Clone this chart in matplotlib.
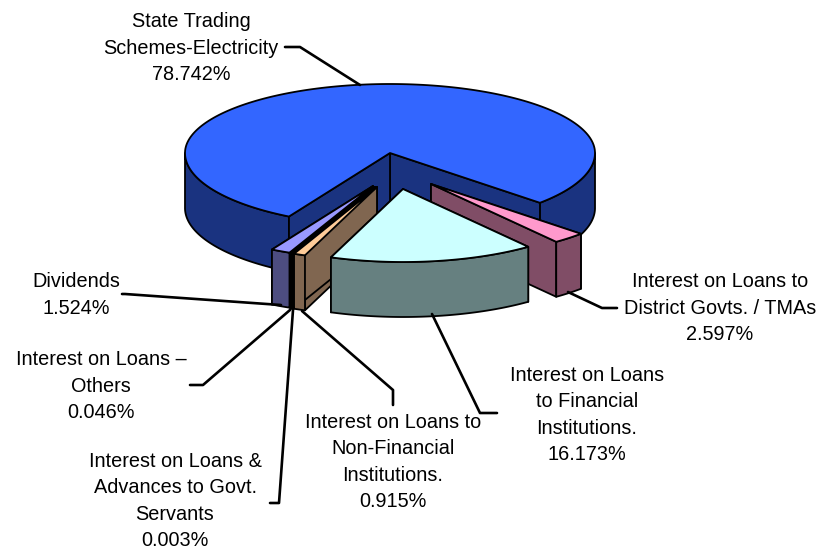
import numpy as np
import matplotlib
matplotlib.use("Agg")
import matplotlib.pyplot as plt
from matplotlib.patches import Polygon

plt.rcParams["font.family"] = ["Liberation Sans", "DejaVu Sans"]

# clockwise from the right hand cut of the big slice
labels = ["Interest on Loans to\nDistrict Govts. / TMAs",
          "Interest on Loans\nto Financial\nInstitutions.",
          "Interest on Loans to\nNon-Financial\nInstitutions.",
          "Interest on Loans &\nAdvances to Govt.\nServants",
          "Interest on Loans \u2013\nOthers",
          "Dividends",
          "State Trading\nSchemes-Electricity"]
values = [2.597, 16.173, 0.915, 0.003, 0.046, 1.524, 78.742]

top_colors = ["#FF99CC", "#CCFFFF", "#FFCC99", "#3A3A5A", "#2A2A3A", "#9999FF", "#3366FF"]
side_colors = ["#804D66", "#668080", "#806650", "#222222", "#222222", "#4D4D80", "#1A3380"]

# apex of each slice in pixels (exploded slices sit off the centre)
apex_x = [431, 403, 377, 375, 374, 373, 390]
apex_y = [184, 189, 187, 187, 187, 186, 153]
text_x = [720, 587, 393, 175, 101, 76, 191]
text_y = [308, 415, 462, 501, 386, 295, 48]

RX = 205
RY_FRONT = 73
RY_BACK = 69
DEPTH = 55
START = -43
LW = 1.3


def rim(t0, t1, cx, cy, n=80):
    t = np.radians(np.linspace(t0, t1, n))
    s = np.sin(t)
    ry = np.where(s < 0, RY_FRONT, RY_BACK)
    return np.column_stack([cx + RX * np.cos(t), cy - ry * s])


def face(ax, pts, color, z):
    ax.add_patch(Polygon(pts, closed=True, fc=color, ec="black", lw=LW, zorder=z, joinstyle="round"))


def down(pts):
    return pts + np.array([0, DEPTH])


def draw_slice(ax, t0, t1, cx, cy, top, side, z):
    # t0 > t1, slices run clockwise
    apex = np.array([[cx, cy]])
    edge = rim(t0, t1, cx, cy)
    for e in (edge[0], edge[-1]):
        p = np.vstack([apex, [e], down(np.array([e])), down(apex)])
        face(ax, p, side, z)
    face(ax, np.vstack([edge, down(edge)[::-1]]), side, z + 0.1)
    face(ax, np.vstack([apex, edge]), top, z + 0.2)


def draw_main(ax, t0, t1, cx, cy, top, side):
    # the large slice is concave: only front rim, then both cut faces, then top
    apex = np.array([[cx, cy]])
    for a, b in ((t0, 0), (180, t1)):
        edge = rim(a, b, cx, cy)
        face(ax, np.vstack([edge, down(edge)[::-1]]), side, 1)
    for t in (t0, t1):
        e = rim(t, t, cx, cy, 1)
        face(ax, np.vstack([apex, e, down(e), down(apex)]), side, 1.1)
    edge = rim(t0, t1, cx, cy, 200)
    face(ax, np.vstack([apex, edge]), top, 1.2)


fig = plt.figure(figsize=(8.22, 5.5), dpi=100)
ax = fig.add_axes([0, 0, 1, 1])
ax.set_xlim(0, 822)
ax.set_ylim(550, 0)
ax.axis("off")

angles = START - np.cumsum([0] + values) * 3.6
draw_main(ax, START, angles[6] + 360, apex_x[6], apex_y[6], top_colors[6], side_colors[6])

# painter's order: pink first, then the thin ones, cyan last
for z, i in zip([2, 3, 4, 5, 6, 7], [0, 5, 4, 3, 2, 1]):
    draw_slice(ax, angles[i], angles[i + 1], apex_x[i], apex_y[i], top_colors[i], side_colors[i], z)

leaders = {
    6: ([285, 300, 360], [47, 47, 85]),
    0: ([568, 602, 617], [292, 308, 308]),
    1: ([432, 480, 497], [314, 413, 413]),
    2: ([302, 393, 393], [311, 390, 405]),
    3: ([293, 279, 270], [310, 503, 503]),
    4: ([290, 203, 190], [310, 385, 385]),
    5: ([281, 125, 122], [305, 294, 294]),
}
for i, (lx, ly) in leaders.items():
    ax.plot(lx, ly, color="black", lw=1.9, zorder=10, solid_capstyle="round")

for name, v, x, y in zip(labels, values, text_x, text_y):
    ax.text(x, y, f"{name}\n{v:.3f}%", ha="center", va="center", fontsize=14.3,
            linespacing=1.5, color="black", zorder=11)

fig.savefig("out.png", dpi=100)
